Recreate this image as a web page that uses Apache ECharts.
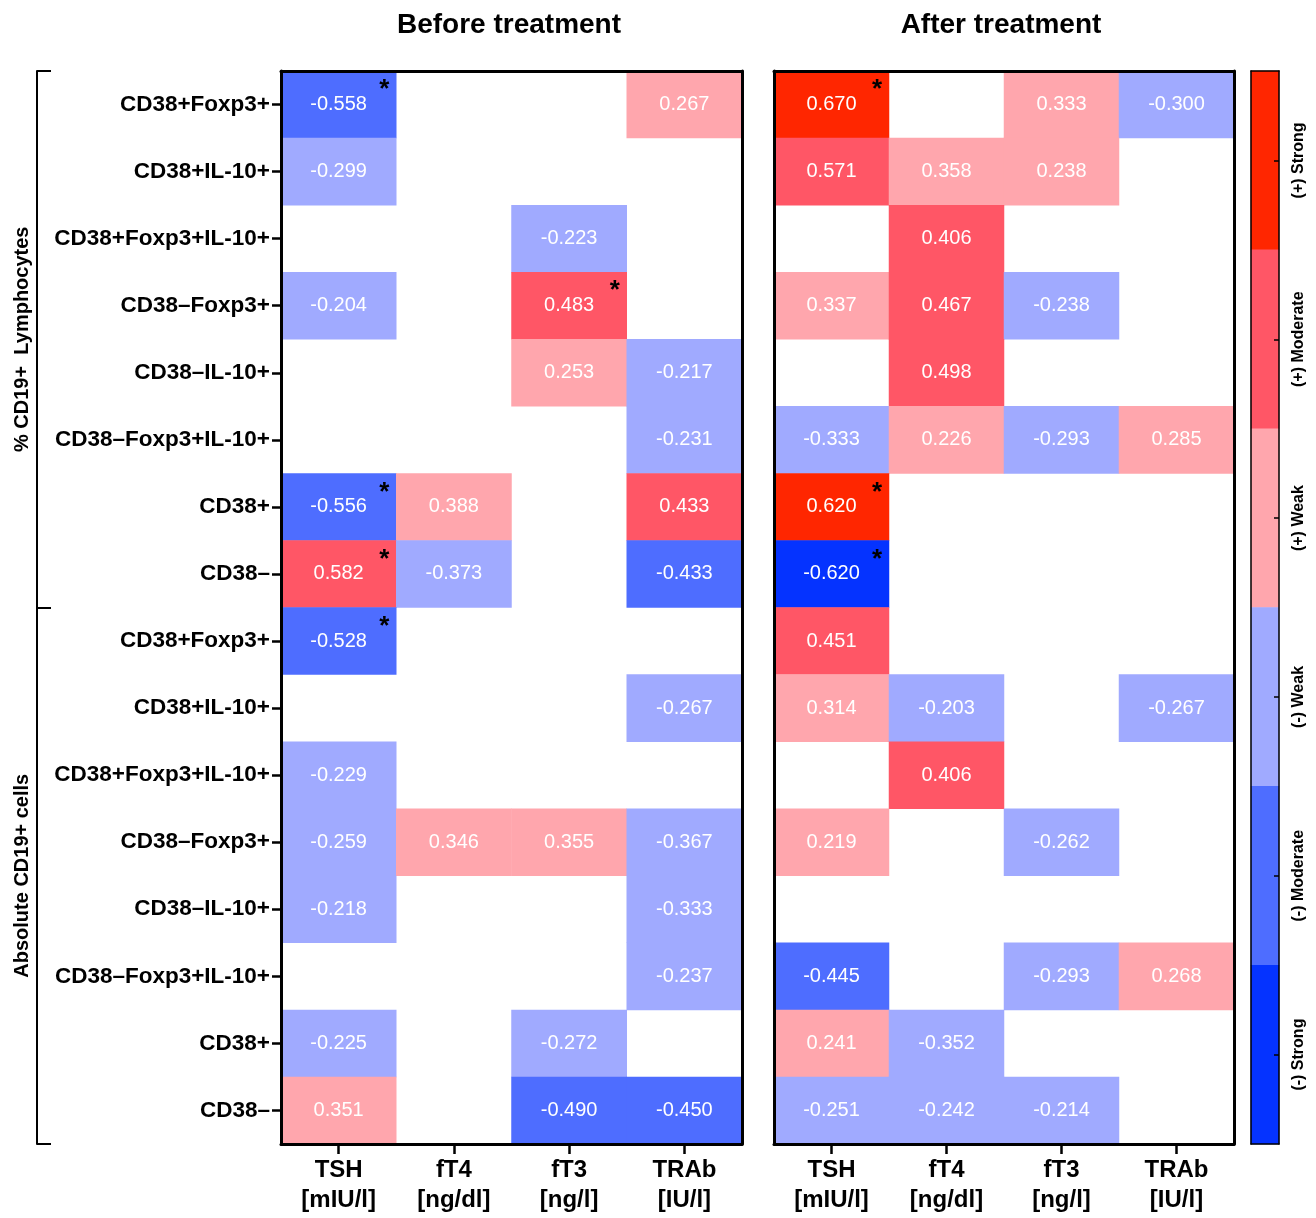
<!DOCTYPE html>
<html>
<head>
<meta charset="utf-8">
<script src="https://cdn.jsdelivr.net/npm/echarts@6/dist/echarts.min.js"></script>
<style>
html,body{margin:0;padding:0;background:#fff;}
#chart{width:1316px;height:1218px;}
</style>
</head>
<body>
<div id="chart"></div>
<script>
const rowLabels = ['CD38+Foxp3+','CD38+IL-10+','CD38+Foxp3+IL-10+','CD38–Foxp3+','CD38–IL-10+','CD38–Foxp3+IL-10+','CD38+','CD38–',
                   'CD38+Foxp3+','CD38+IL-10+','CD38+Foxp3+IL-10+','CD38–Foxp3+','CD38–IL-10+','CD38–Foxp3+IL-10+','CD38+','CD38–'];
const groupLabels = ['% CD19+  Lymphocytes','Absolute CD19+ cells'];
const colLabels = ['TSH\n[mIU/l]','fT4\n[ng/dl]','fT3\n[ng/l]','TRAb\n[IU/l]'];
const panelTitles = ['Before treatment','After treatment'];

// rows x [TSH, fT4, fT3, TRAb]; null = no cell
const beforeValues = [
  [-0.558, null, null, 0.267],
  [-0.299, null, null, null],
  [null, null, -0.223, null],
  [-0.204, null, 0.483, null],
  [null, null, 0.253, -0.217],
  [null, null, null, -0.231],
  [-0.556, 0.388, null, 0.433],
  [0.582, -0.373, null, -0.433],
  [-0.528, null, null, null],
  [null, null, null, -0.267],
  [-0.229, null, null, null],
  [-0.259, 0.346, 0.355, -0.367],
  [-0.218, null, null, -0.333],
  [null, null, null, -0.237],
  [-0.225, null, -0.272, null],
  [0.351, null, -0.490, -0.450]
];
const afterValues = [
  [0.670, null, 0.333, -0.300],
  [0.571, 0.358, 0.238, null],
  [null, 0.406, null, null],
  [0.337, 0.467, -0.238, null],
  [null, 0.498, null, null],
  [-0.333, 0.226, -0.293, 0.285],
  [0.620, null, null, null],
  [-0.620, null, null, null],
  [0.451, null, null, null],
  [0.314, -0.203, null, -0.267],
  [null, 0.406, null, null],
  [0.219, null, -0.262, null],
  [null, null, null, null],
  [-0.445, null, -0.293, 0.268],
  [0.241, -0.352, null, null],
  [-0.251, -0.242, -0.214, null]
];
// significant cells [row, col]
const beforeSig = [[0,0],[3,2],[6,0],[7,0],[8,0]];
const afterSig = [[0,0],[6,0],[7,0]];

const legendLabels = ['(+) Strong','(+) Moderate','(+) Weak','(-) Weak','(-) Moderate','(-) Strong'];
const legendValues = [0.7, 0.5, 0.3, -0.3, -0.5, -0.7];

const FONT = '"Liberation Sans", Arial, Helvetica, sans-serif';

function toCells(mat){
  const out = [];
  mat.forEach((row, r) => row.forEach((v, c) => { if (v !== null) out.push([c, r, v]); }));
  return out;
}
function toStars(list){ return list.map(([r, c]) => [c, r]); }

const chart = echarts.init(document.getElementById('chart'), null, {renderer:'canvas'});

const blackLine = w => ({show:true, lineStyle:{color:'#000', width:w}});
const frameX = (grid, pos) => ({
  type:'category', gridIndex:grid, position:pos, data:colLabels, z:10,
  axisLine: blackLine(3), axisTick:{show:false}, axisLabel:{show:false}, splitLine:{show:false}
});
const frameY = (grid, pos) => ({
  type:'category', gridIndex:grid, position:pos, data:rowLabels, inverse:true, z:10,
  axisLine: blackLine(3), axisTick:{show:false}, axisLabel:{show:false}, splitLine:{show:false}
});
const bottomX = grid => ({
  type:'category', gridIndex:grid, position:'bottom', data:colLabels, z:10,
  axisLine: blackLine(3),
  axisTick:{show:true, alignWithLabel:true, length:10, lineStyle:{color:'#000', width:2.5}},
  axisLabel:{show:true, interval:0, margin:11, color:'#000', fontFamily:FONT, fontWeight:'bold', fontSize:24, lineHeight:30},
  splitLine:{show:false}
});

function starSeries(xi, yi, data){
  return {
    type:'custom', xAxisIndex:xi, yAxisIndex:yi, z:6, silent:true,
    data: data,
    renderItem: function(params, api){
      const p = api.coord([api.value(0), api.value(1)]);
      const s = api.size([1, 1]);
      return {
        type:'text',
        style:{
          text:'*', x: p[0] + s[0]/2 - 7, y: p[1] - s[1]/2 + 6,
          align:'right', verticalAlign:'top',
          fill:'#000', font:'bold 26px ' + FONT
        }
      };
    }
  };
}

const cellLabel = {
  show:true, color:'#fff', fontFamily:FONT, fontSize:20,
  formatter: p => p.value[2].toFixed(3)
};

const option = {
  animation:false,
  backgroundColor:'#fff',
  title:[
    {text:panelTitles[0], left:504, top:6, textAlign:'center',
     textStyle:{fontFamily:FONT, fontWeight:'bold', fontSize:28, color:'#000'}},
    {text:panelTitles[1], left:996, top:6, textAlign:'center',
     textStyle:{fontFamily:FONT, fontWeight:'bold', fontSize:28, color:'#000'}}
  ],
  grid:[
    {left:281, top:71, width:461, height:1073},
    {left:774, top:71, width:460, height:1073},
    {left:1251, top:71, width:28, height:1073}
  ],
  xAxis:[
    bottomX(0),
    bottomX(1),
    frameX(0, 'top'),
    frameX(1, 'top'),
    {type:'category', gridIndex:2, position:'bottom', data:['scale'], z:10,
     axisLine:blackLine(1.5), axisTick:{show:false}, axisLabel:{show:false}},
    {type:'category', gridIndex:2, position:'top', data:['scale'], z:10,
     axisLine:blackLine(1.5), axisTick:{show:false}, axisLabel:{show:false}}
  ],
  yAxis:[
    {type:'category', gridIndex:0, position:'left', data:rowLabels, inverse:true, z:10,
     axisLine:blackLine(3),
     axisTick:{show:true, alignWithLabel:true, length:9, lineStyle:{color:'#000', width:2.5}},
     axisLabel:{show:true, interval:0, margin:11, color:'#000', fontFamily:FONT, fontWeight:'bold', fontSize:22.5},
     splitLine:{show:false}},
    frameY(0, 'right'),
    frameY(1, 'left'),
    frameY(1, 'right'),
    {type:'category', gridIndex:0, position:'left', offset:244, data:groupLabels, inverse:true,
     axisLine:blackLine(2),
     axisTick:{show:true, inside:true, length:14, lineStyle:{color:'#000', width:2}},
     axisLabel:{show:true, interval:0, rotate:90, margin:5, color:'#000', fontFamily:FONT, fontWeight:'bold', fontSize:20},
     splitLine:{show:false}},
    {type:'category', gridIndex:2, position:'right', data:legendLabels, inverse:true, z:10,
     axisLine:blackLine(1.5),
     axisTick:{show:true, inside:true, alignWithLabel:true, length:5, lineStyle:{color:'#000', width:1.5}},
     axisLabel:{show:true, interval:0, rotate:90, margin:12, color:'#000', fontFamily:FONT, fontWeight:'bold', fontSize:16},
     splitLine:{show:false}},
    {type:'category', gridIndex:2, position:'left', data:legendLabels, inverse:true, z:10,
     axisLine:blackLine(1.5), axisTick:{show:false}, axisLabel:{show:false}}
  ],
  visualMap:{
    type:'piecewise', show:false, dimension:2, seriesIndex:[0,1,2],
    pieces:[
      {gte:0.6, color:'#FF2600'},
      {gte:0.4, lt:0.6, color:'#FF5666'},
      {gte:0, lt:0.4, color:'#FFA6AD'},
      {gte:-0.4, lt:0, color:'#A0AAFF'},
      {gt:-0.6, lt:-0.4, color:'#4E6DFF'},
      {lte:-0.6, color:'#0533FF'}
    ]
  },
  series:[
    {type:'heatmap', xAxisIndex:0, yAxisIndex:0, data:toCells(beforeValues), label:cellLabel,
     emphasis:{disabled:true}},
    {type:'heatmap', xAxisIndex:1, yAxisIndex:2, data:toCells(afterValues), label:cellLabel,
     emphasis:{disabled:true}},
    {type:'heatmap', xAxisIndex:4, yAxisIndex:5, data:legendValues.map((v, i) => [0, i, v]),
     label:{show:false}, emphasis:{disabled:true}},
    starSeries(0, 0, toStars(beforeSig)),
    starSeries(1, 2, toStars(afterSig))
  ]
};
chart.setOption(option);
</script>
</body>
</html>
